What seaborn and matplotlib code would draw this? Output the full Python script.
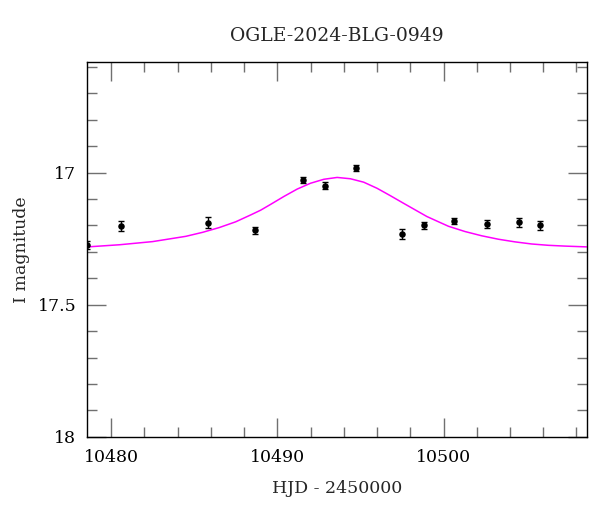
import numpy as np
import pandas as pd
import matplotlib
matplotlib.use("Agg")
import matplotlib.pyplot as plt
from matplotlib.ticker import MultipleLocator, FormatStrFormatter
import seaborn as sns

# ---- data ----
obs_hjd = [10478.57, 10480.58, 10485.86, 10488.64, 10491.57, 10492.86,
           10494.71, 10497.52, 10498.83, 10500.62, 10502.59, 10504.55, 10505.80]
obs_mag = [17.275, 17.202, 17.189, 17.218, 17.029, 17.049,
           16.982, 17.233, 17.200, 17.183, 17.193, 17.188, 17.200]
obs_err = [0.015, 0.018, 0.020, 0.013, 0.011, 0.012,
           0.010, 0.020, 0.013, 0.013, 0.015, 0.016, 0.017]

model_hjd = [10478.6, 10480.5, 10482.5, 10484.5, 10485.5, 10486.5, 10487.5,
             10488.4, 10489.0, 10489.6, 10490.4, 10491.2, 10492.0, 10492.8,
             10493.6, 10494.4, 10495.2, 10496.0, 10496.8, 10497.6, 10498.3,
             10499.0, 10499.7, 10500.3, 10501.3, 10502.3, 10503.3, 10504.3,
             10505.3, 10506.3, 10507.3, 10508.6]
model_mag = [17.281, 17.273, 17.261, 17.241, 17.226, 17.208, 17.186,
             17.160, 17.142, 17.120, 17.090, 17.062, 17.040, 17.025,
             17.018, 17.023, 17.036, 17.059, 17.087, 17.116, 17.141,
             17.166, 17.186, 17.203, 17.223, 17.239, 17.252, 17.262,
             17.270, 17.275, 17.278, 17.281]

title = "OGLE-2024-BLG-0949"
xlabel = "HJD - 2450000"
ylabel = "I magnitude"

obs = pd.DataFrame({"hjd": obs_hjd, "mag": obs_mag, "err": obs_err})
model = pd.DataFrame({"hjd": model_hjd, "mag": model_mag})

sns.set_theme(style="white")
plt.rcParams["font.family"] = ["DejaVu Serif"]

fig = plt.figure(figsize=(6.0, 5.12), dpi=100)
ax = fig.add_axes([0.1455, 0.147, 0.8333, 0.7313])

sns.lineplot(data=model, x="hjd", y="mag", ax=ax, color="#ff00ff",
             linewidth=1.1, sort=False, estimator=None)
ax.errorbar(obs["hjd"], obs["mag"], yerr=obs["err"], fmt="none",
            ecolor="black", elinewidth=1.0, capsize=2.5, capthick=1.0, zorder=3)
sns.scatterplot(data=obs, x="hjd", y="mag", ax=ax, color="black", s=22,
                edgecolor="black", linewidth=0, zorder=4)

ax.set_xlim(10478.57, 10508.65)
ax.set_ylim(18.0, 16.582)

ax.xaxis.set_major_locator(MultipleLocator(10))
ax.xaxis.set_minor_locator(MultipleLocator(2))
ax.yaxis.set_major_locator(MultipleLocator(0.5))
ax.yaxis.set_minor_locator(MultipleLocator(0.1))
ax.yaxis.set_major_formatter(FormatStrFormatter("%g"))

ax.tick_params(which="both", direction="in", top=True, right=True,
               bottom=True, left=True,
               color="#707070", width=1.0, labelsize=12.5, labelcolor="black")
ax.tick_params(which="major", length=14, pad=9)
ax.tick_params(which="minor", length=7)
ax.tick_params(axis="y", which="major", pad=8)

for sp in ax.spines.values():
    sp.set_color("black")
    sp.set_linewidth(1.0)

ax.set_title(title, fontsize=13.5, pad=15)
ax.set_xlabel(xlabel, fontsize=12.5, labelpad=10)
ax.set_ylabel(ylabel, fontsize=12.5, labelpad=5)
ax.grid(False)

fig.savefig("out.png", dpi=100, facecolor="white")
